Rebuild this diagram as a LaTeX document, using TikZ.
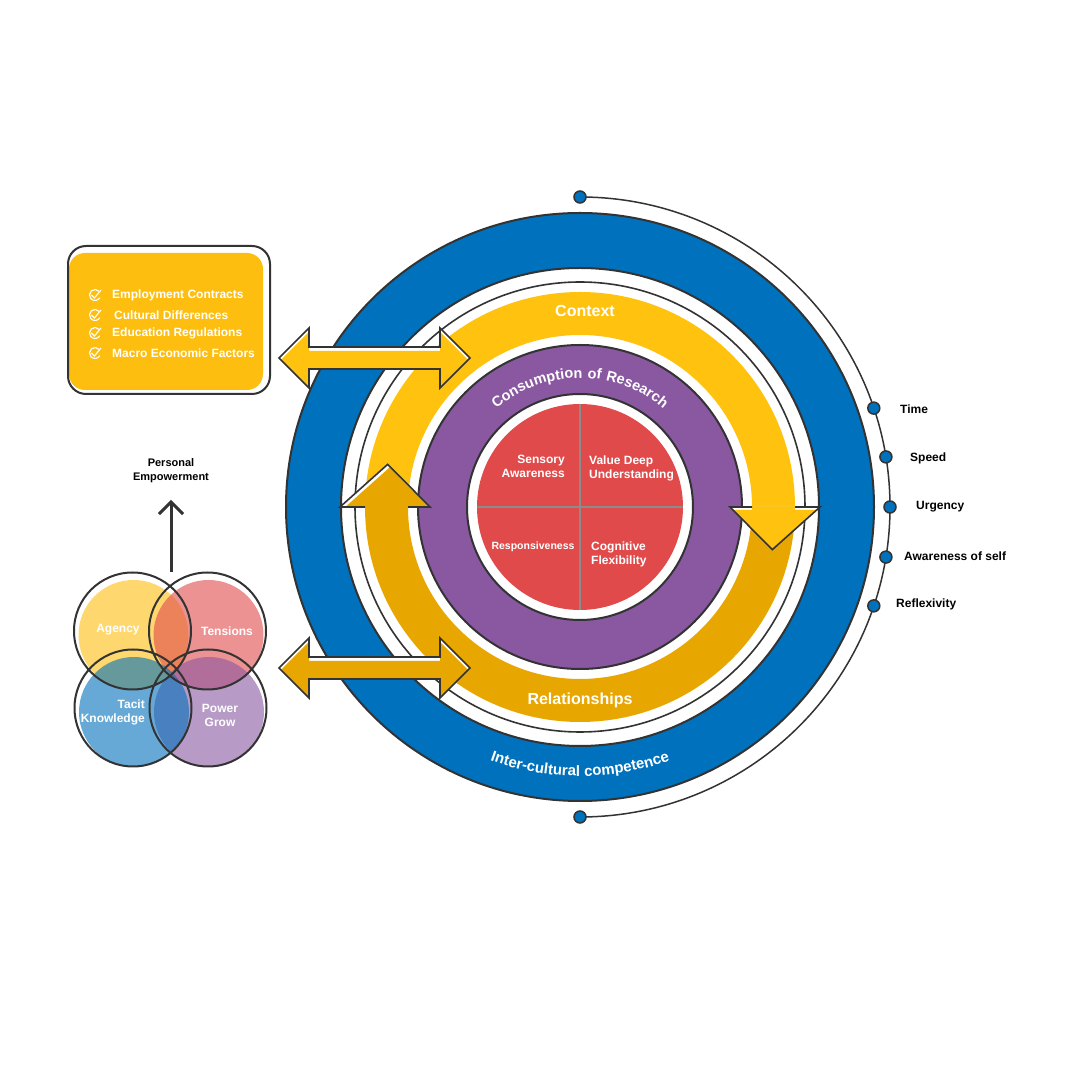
\documentclass[tikz,border=0pt]{standalone}
\usepackage{fontspec}
\setmainfont{Liberation Sans}
\newfontfamily\spacedsans[LetterSpace=5]{Liberation Sans}
\usetikzlibrary{decorations.text,arrows.meta}
\definecolor{cblue}{HTML}{0071BC}
\definecolor{cyel}{HTML}{FFC20E}
\definecolor{cdyel}{HTML}{E8A700}
\definecolor{cpur}{HTML}{8A57A1}
\definecolor{cred}{HTML}{E04A4B}
\definecolor{cline}{HTML}{333333}
\definecolor{cgrey}{HTML}{8C8C8C}
\definecolor{boxyel}{HTML}{FDBE10}
\definecolor{vyel}{HTML}{FEBF0F}
\definecolor{vpink}{HTML}{E04A4B}
\definecolor{vblue}{HTML}{0070BB}
\definecolor{vpur}{HTML}{8A57A1}
\newcommand\dblarrow[1]{(279,#1) -- (309,#1+30) -- (309,#1+11) -- (440,#1+11) -- (440,#1+30) -- (470,#1) -- (440,#1-30) -- (440,#1-11) -- (309,#1-11) -- (309,#1-30) -- cycle}
\newcommand\headR{(0:150) -- (-12.5:197) -- (0:240) -- cycle}
\newcommand\headL{(180:150) -- (167.5:197) -- (180:240) -- cycle}
\begin{document}
\begin{tikzpicture}[x=1pt,y=1pt,
  outl/.style={draw=cline,line width=2pt},
  wl/.style={font=\fontsize{12}{14}\selectfont\bfseries, text=white, inner sep=0pt},
  rl/.style={font=\fontsize{12}{14}\selectfont\bfseries, text=black, inner sep=0pt, anchor=west},
  bl/.style={font=\fontsize{12}{14}\selectfont\bfseries, text=white, inner sep=0pt, anchor=west},
  dot/.style={circle, fill=cblue, draw=cline, line width=1.5pt, minimum size=12pt, inner sep=0pt},
  chk/.style={draw=white, line width=1.1pt},
  vfill/.style={fill=#1, fill opacity=0.6}]
\fill[white] (0,0) rectangle (1080,1080);
\useasboundingbox (0,0) rectangle (1080,1080);

% ---------- main circle ----------
\begin{scope}[shift={(580,573)}]
  \draw[cline, line width=1.5pt] (90:310) arc[start angle=90,end angle=-90,radius=310];
  \fill[cblue] (0,0) circle (294);
  \fill[white] (0,0) circle (239);
  \draw[outl] (0,0) circle (294) (0,0) circle (239);
  \draw[cline, line width=1.6pt] (0,0) circle (225);
  % bands
  \fill[cyel] (180:215) arc[start angle=180,end angle=0,radius=215] -- (0:172) arc[start angle=0,end angle=180,radius=172] -- cycle;
  \fill[cdyel] (0:215) arc[start angle=0,end angle=-180,radius=215] -- (180:172) arc[start angle=-180,end angle=0,radius=172] -- cycle;
  % purple and red
  \fill[cpur] (0,0) circle (162);
  \draw[outl] (0,0) circle (162);
  \fill[white] (0,0) circle (113);
  \draw[outl] (0,0) circle (113);
  \fill[cred] (0,0) circle (103);
  \draw[cgrey, line width=2pt] (-103,0) -- (103,0) (0,-103) -- (0,103);
  % head of upper arrow (right)
  \begin{scope}
    \clip \headR;
    \fill[white] \headR;
    \fill[cyel, yshift=-3pt] \headR;
  \end{scope}
  \fill[cyel] (0:215) arc[start angle=0,end angle=-2,radius=215] -- (-2:172) arc[start angle=-2,end angle=0,radius=172] -- cycle;
  \draw[cline, line width=1.6pt, line join=miter] (0:172) -- (0:150) -- (-12.5:197) -- (0:240) -- (0:215);
  % head of lower arrow (left)
  \begin{scope}
    \clip \headL;
    \fill[white] \headL;
    \fill[cdyel, yshift=-3pt, xshift=2pt] \headL;
  \end{scope}
  \fill[cdyel] (180:215) arc[start angle=180,end angle=178,radius=215] -- (178:172) arc[start angle=178,end angle=180,radius=172] -- cycle;
  \draw[cline, line width=1.6pt, line join=miter] (180:172) -- (180:150) -- (167.5:197) -- (180:240) -- (180:215);
  % curved texts
  \path[decorate, decoration={text along path, text align=center, text color=white,
     text={|\spacedsans\fontsize{14.5}{15}\selectfont\bfseries|Consumption of Research}}]
     (150:129) arc[start angle=150,end angle=30,radius=129];
  \path[decorate, decoration={text along path, text align=center, text color=white,
     text={|\fontsize{15}{15}\selectfont\bfseries|Inter-cultural competence}}]
     (-150:269) arc[start angle=-150,end angle=-30,radius=269];
  % dots on outer arc
  \node[dot] (dtop) at (90:310) {};
  \node[dot] (dbot) at (-90:310) {};
  \node[dot] (d1) at (18.6:310) {};
  \node[dot] (d2) at (9.3:310) {};
  \node[dot] (d3) at (0:310) {};
  \node[dot] (d4) at (-9.3:310) {};
  \node[dot] (d5) at (-18.6:310) {};
\end{scope}

% band labels
\node[wl, font=\fontsize{16}{18}\selectfont\bfseries] (ctx) at (585,769) {Context};
\node[wl, font=\fontsize{16}{18}\selectfont\bfseries] (rel) at (580,380) {Relationships};

% quadrant labels
\node[wl, anchor=east, align=right] (q1) at (565,614) {Sensory\\Awareness};
\node[wl, anchor=west, align=left] (q2) at (589,612) {Value Deep\\Understanding};
\node[wl, font=\fontsize{10.5}{12}\selectfont\bfseries] (q3) at (533,533) {Responsiveness};
\node[wl, anchor=west, align=left] (q4) at (591,526) {Cognitive\\Flexibility};

% right labels
\node[rl] (l1) at (900,671) {Time};
\node[rl] (l2) at (910,622) {Speed};
\node[rl] (l3) at (916,573) {Urgency};
\node[rl] (l4) at (904,524) {Awareness of self};
\node[rl] (l5) at (896,476) {Reflexivity};

% double arrows
\begin{scope}
  \clip \dblarrow{722};
  \fill[white] \dblarrow{722};
  \fill[cyel] \dblarrow{718};
\end{scope}
\draw[cline, line width=1.6pt, line join=miter] \dblarrow{722};
\begin{scope}
  \clip \dblarrow{412};
  \fill[white] \dblarrow{412};
  \fill[cdyel] \dblarrow{408};
\end{scope}
\draw[cline, line width=1.6pt, line join=miter] \dblarrow{412};

% box
\fill[boxyel, rounded corners=16pt] (69,690) rectangle (263,827);
\draw[outl, rounded corners=18pt] (68,686) rectangle (270,834);
\foreach \yy in {785,765,747,727}{
  \draw[chk] (95,\yy) ++(40:5.5) arc[start angle=40,end angle=330,radius=5.5];
  \draw[chk] (91.5,\yy) -- (94.5,\yy-3) -- (101,\yy+5);
}
\node[bl] (b1) at (112,785) {Employment Contracts};
\node[bl] (b2) at (114,765) {Cultural Differences};
\node[bl] (b3) at (112,747) {Education Regulations};
\node[bl] (b4) at (112,727) {Macro Economic Factors};

% venn
\fill[vfill=vyel] (133.5,445) circle (55);
\fill[vfill=vpink] (208.5,445) circle (55);
\fill[vfill=vpur] (209,368) circle (55);
\fill[vfill=vblue] (134,368) circle (55);
\draw[outl] (132.5,449) circle (58.5) (207.5,449) circle (58.5) (133,372) circle (58.5) (208,372) circle (58.5);
\node[wl] (vA) at (118,450) {Agency};
\node[wl] (vB) at (227,449) {Tensions};
\node[wl, anchor=east, align=right] (vC) at (145,368) {Tacit\\Knowledge};
\node[wl, align=center] (vD) at (220,365) {Power\\Grow};

% personal empowerment
\coordinate (pe0) at (171,508);
\coordinate (pe1) at (171,580);
\draw[cline, line width=3pt, -{Straight Barb[length=12pt,width=24pt]}] (pe0) -- (pe1);
\node[font=\fontsize{11}{14}\selectfont\bfseries, align=center, inner sep=0pt] (pe) at (171,609) {Personal\\Empowerment};
\end{tikzpicture}
\end{document}
